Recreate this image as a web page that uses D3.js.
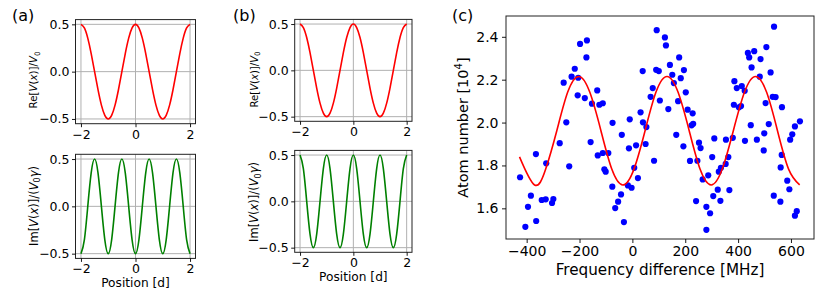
<!DOCTYPE html>
<html>
<head>
<meta charset="utf-8">
<script src="https://cdn.jsdelivr.net/npm/d3@7"></script>
<style>
  body { margin: 0; background: #fff; }
  svg { display: block; }
  text { font-family: "DejaVu Sans", sans-serif; }
</style>
</head>
<body>
<svg id="chart" width="831" height="297"></svg>
<script>
// (a), (b): potential along the lattice, position in units of d
const positions = [-2, -1.875, -1.75, -1.625, -1.5, -1.375, -1.25, -1.125, -1,
  -0.875, -0.75, -0.625, -0.5, -0.375, -0.25, -0.125, 0,
  0.125, 0.25, 0.375, 0.5, 0.625, 0.75, 0.875, 1,
  1.125, 1.25, 1.375, 1.5, 1.625, 1.75, 1.875, 2];
const reValues = [0.5, 0.462, 0.354, 0.191, 0, -0.191, -0.354, -0.462, -0.5,
  -0.462, -0.354, -0.191, 0, 0.191, 0.354, 0.462, 0.5,
  0.462, 0.354, 0.191, 0, -0.191, -0.354, -0.462, -0.5,
  -0.462, -0.354, -0.191, 0, 0.191, 0.354, 0.462, 0.5];
const imValuesA = [-0.5, -0.354, 0, 0.354, 0.5, 0.354, 0, -0.354, -0.5,
  -0.354, 0, 0.354, 0.5, 0.354, 0, -0.354, -0.5,
  -0.354, 0, 0.354, 0.5, 0.354, 0, -0.354, -0.5,
  -0.354, 0, 0.354, 0.5, 0.354, 0, -0.354, -0.5];
const imValuesB = [0.5, 0.354, 0, -0.354, -0.5, -0.354, 0, 0.354, 0.5,
  0.354, 0, -0.354, -0.5, -0.354, 0, 0.354, 0.5,
  0.354, 0, -0.354, -0.5, -0.354, 0, 0.354, 0.5,
  0.354, 0, -0.354, -0.5, -0.354, 0, 0.354, 0.5];
const posTicks = [-2, 0, 2];
const potTicks = [-0.5, 0, 0.5];

// (c): measured atom number vs frequency difference
const freqTicks = [-400, -200, 0, 200, 400, 600];
const atomTicks = [1.6, 1.8, 2.0, 2.2, 2.4];
const measFreq = [92, -198, -172, -174, -218, -230, -205, -260, -133, -207,
  -180, -153, -125, -112, -250, -75, -10, 31, 40, 39, 90, 100, 77, 69, 104, 53,
  123, 127, 177, 142, 195, 151, 183, 157, 202, 173, 136, 209, 228, 230, 224,
  536, 437, 461, 442, 507, 485, 451, 523, 482, 386, 414, 395, 425, 531, 542,
  504, 384, 411, 403, 566, 448, 516, 634, 615,
  -275, -365, -326, -425, -239, -384, -343, -328, -299, -304, -395, -405, -364,
  -158, -40, -131, -112, -91, -13, 14, 50, 82, -106, -101, 7, 21, -76, -17, -3,
  -43, -54, -65, -32,
  166, 193, 252, 258, 310, 354, 380, 426, 471, 499, 497, 218, 246, 302, 363,
  353, 335, 327, 287, 266, 323, 367, 306, 333, 241, 280, 294, 280, 605, 597,
  565, 561, 586, 594, 535, 560, 622, 615];
const measAtoms = [2.431, 2.367, 2.383, 2.304, 2.251, 2.214, 2.209, 2.186, 2.150, 2.127,
  2.114, 2.088, 2.083, 2.090, 2.001, 1.999, 2.015, 2.048, 2.001, 2.240, 2.246, 2.240,
  2.161, 2.120, 2.103, 1.979,
  2.397, 2.360, 2.304, 2.269, 2.245, 2.223, 2.207, 2.184, 2.141, 2.100, 2.063, 2.060,
  2.043, 1.994, 1.987, 2.447, 2.325, 2.333, 2.304, 2.352, 2.296, 2.257, 2.234, 2.214,
  2.193, 2.170, 2.161, 2.148, 2.120, 2.119, 2.091, 2.083, 2.077, 2.071, 2.072, 1.988,
  1.993, 2.006, 1.982,
  1.904, 1.853, 1.810, 1.745, 1.796, 1.659, 1.639, 1.642, 1.643, 1.625, 1.607, 1.514,
  1.541, 1.909, 1.943, 1.847, 1.858, 1.858, 1.880, 1.894, 1.900, 1.822, 1.782, 1.771,
  1.789, 1.741, 1.701, 1.707, 1.696, 1.665, 1.631, 1.601, 1.536,
  1.943, 1.889, 1.906, 1.881, 1.926, 1.920, 1.929, 1.915, 1.920, 1.950, 1.870, 1.821,
  1.822, 1.839, 1.839, 1.807, 1.789, 1.771, 1.754, 1.735, 1.687, 1.685, 1.657, 1.635,
  1.634, 1.607, 1.577, 1.500, 1.945, 1.920, 1.849, 1.791, 1.729, 1.689, 1.659, 1.631,
  1.587, 1.566];
// sinusoidal fit
const fitFreq = [-427, -370, -328, -286, -245, -203, -161, -119, -78, -36, 6, 48, 89,
  131, 173, 215, 256, 298, 340, 382, 424, 466, 508, 549, 591, 633];
const fitAtoms = [1.840, 1.709, 1.783, 1.962, 2.141, 2.215, 2.141, 1.962, 1.783, 1.709,
  1.783, 1.962, 2.141, 2.215, 2.141, 1.962, 1.783, 1.709, 1.783, 1.962, 2.141, 2.215,
  2.141, 1.962, 1.783, 1.709];

const svg = d3.select('#chart');
const fmt1 = d3.format('.1f');
const fmtInt = d3.format('d');

// rich label: pieces of [text, style] where style is '', 'i', 'sub' or 'sup'
function richText(sel, pieces, size) {
  let shift = 0;
  pieces.forEach(([t, s]) => {
    const ts = sel.append('tspan').text(t);
    let target = 0;
    if (s === 'i') ts.attr('font-style', 'italic');
    if (s === 'sub') { target = size * 0.25; ts.attr('font-size', size * 0.7); }
    if (s === 'sup') { target = -size * 0.4; ts.attr('font-size', size * 0.7); }
    if (target !== shift) { ts.attr('dy', target - shift); shift = target; }
  });
}

function styleAxis(g, size) {
  g.select('.domain').remove();
  g.selectAll('.tick line').attr('stroke', '#000').attr('stroke-width', 0.9);
  g.selectAll('.tick text')
    .attr('fill', '#000')
    .attr('font-size', size)
    .attr('font-family', '"DejaVu Sans", sans-serif');
}

function potentialPanel(box, values, color, yLabel, yLabelSize, yLabelLen, yLabelX, yLabelY, xLabelY) {
  const x = d3.scaleLinear().domain([-2.2, 2.2]).range([box.x0, box.x1]);
  const y = d3.scaleLinear().domain([-0.55, 0.55]).range([box.y1, box.y0]);
  const g = svg.append('g');

  // grid
  g.selectAll('line.vgrid').data(posTicks).enter().append('line')
    .attr('x1', d => x(d)).attr('x2', d => x(d))
    .attr('y1', box.y0).attr('y2', box.y1)
    .attr('stroke', '#b0b0b0').attr('stroke-width', 1);
  g.selectAll('line.hgrid').data(potTicks).enter().append('line')
    .attr('x1', box.x0).attr('x2', box.x1)
    .attr('y1', d => y(d)).attr('y2', d => y(d))
    .attr('stroke', '#b0b0b0').attr('stroke-width', 1);

  // curve
  g.append('path')
    .datum(positions.map((p, i) => [p, values[i]]))
    .attr('fill', 'none')
    .attr('stroke', color)
    .attr('stroke-width', 1.6)
    .attr('d', d3.line().x(d => x(d[0])).y(d => y(d[1])).curve(d3.curveNatural));

  g.append('rect')
    .attr('x', box.x0).attr('y', box.y0)
    .attr('width', box.x1 - box.x0).attr('height', box.y1 - box.y0)
    .attr('fill', 'none').attr('stroke', '#222').attr('stroke-width', 1);

  const ax = g.append('g').attr('transform', `translate(0,${box.y1})`)
    .call(d3.axisBottom(x).tickValues(posTicks).tickFormat(fmtInt).tickSize(3.5).tickPadding(2.5));
  styleAxis(ax, 12.5);
  const ay = g.append('g').attr('transform', `translate(${box.x0},0)`)
    .call(d3.axisLeft(y).tickValues(potTicks).tickFormat(fmt1).tickSize(3.5).tickPadding(2.5));
  styleAxis(ay, 12.5);

  const yl = g.append('text')
    .attr('transform', `translate(${yLabelX},${yLabelY}) rotate(-90)`)
    .attr('text-anchor', 'middle')
    .attr('font-size', yLabelSize);
  if (yLabelLen) yl.attr('textLength', yLabelLen).attr('lengthAdjust', 'spacingAndGlyphs');
  richText(yl, yLabel, yLabelSize);

  if (xLabelY) {
    g.append('text')
      .attr('x', (box.x0 + box.x1) / 2).attr('y', xLabelY)
      .attr('text-anchor', 'middle').attr('font-size', 12.2)
      .text('Position [d]');
  }
}

const reLabel = [['Re[', ''], ['V', 'i'], ['(', ''], ['x', 'i'], [')]/', ''], ['V', 'i'], ['0', 'sub']];
const imLabel = [['Im[', ''], ['V', 'i'], ['(', ''], ['x', 'i'], [')]/(', ''], ['V', 'i'], ['0', 'sub'], ['γ', 'i'], [')', '']];

potentialPanel({ x0: 75.5, x1: 195.5, y0: 19.6, y1: 123.7 }, reValues, '#ff0000', reLabel, 10.8, 57, 37, 80, null);
potentialPanel({ x0: 75.5, x1: 195.5, y0: 154.3, y1: 258.4 }, imValuesA, '#008000', imLabel, 11.5, null, 37.5, 206, 287);
potentialPanel({ x0: 294.7, x1: 412, y0: 19.4, y1: 121.3 }, reValues, '#ff0000', reLabel, 10.8, 56, 257.5, 79.5, null);
potentialPanel({ x0: 294.7, x1: 412, y0: 150.4, y1: 252.3 }, imValuesB, '#008000', imLabel, 11.5, null, 258, 202, 281);

// panel (c)
const cBox = { x0: 506, x1: 814, y0: 16, y1: 239 };
const xc = d3.scaleLinear().domain([-478.2, 687.2]).range([cBox.x0, cBox.x1]);
const yc = d3.scaleLinear().domain([1.457, 2.497]).range([cBox.y1, cBox.y0]);
const gc = svg.append('g');

gc.selectAll('circle').data(measFreq.map((f, i) => [f, measAtoms[i]])).enter()
  .append('circle')
  .attr('cx', d => xc(d[0])).attr('cy', d => yc(d[1]))
  .attr('r', 3.1).attr('fill', '#0000ff');

gc.append('path')
  .datum(fitFreq.map((f, i) => [f, fitAtoms[i]]))
  .attr('fill', 'none').attr('stroke', '#ff0000').attr('stroke-width', 1.6)
  .attr('d', d3.line().x(d => xc(d[0])).y(d => yc(d[1])).curve(d3.curveNatural));

gc.append('rect')
  .attr('x', cBox.x0).attr('y', cBox.y0)
  .attr('width', cBox.x1 - cBox.x0).attr('height', cBox.y1 - cBox.y0)
  .attr('fill', 'none').attr('stroke', '#222').attr('stroke-width', 1);

const axc = gc.append('g').attr('transform', `translate(0,${cBox.y1})`)
  .call(d3.axisBottom(xc).tickValues(freqTicks).tickFormat(fmtInt).tickSize(4).tickPadding(3.5));
styleAxis(axc, 14);
const ayc = gc.append('g').attr('transform', `translate(${cBox.x0},0)`)
  .call(d3.axisLeft(yc).tickValues(atomTicks).tickFormat(fmt1).tickSize(4).tickPadding(3.5));
styleAxis(ayc, 14);

gc.append('text')
  .attr('x', (cBox.x0 + cBox.x1) / 2).attr('y', 275)
  .attr('text-anchor', 'middle').attr('font-size', 15.2)
  .text('Frequency difference [MHz]');
const ylc = gc.append('text')
  .attr('transform', `translate(468,${(cBox.y0 + cBox.y1) / 2}) rotate(-90)`)
  .attr('text-anchor', 'middle').attr('font-size', 14.5);
richText(ylc, [['Atom number [10', ''], ['4', 'sup'], [']', '']], 14.5);

// panel letters
[['(a)', 12, 21], ['(b)', 233, 21], ['(c)', 452, 21]].forEach(([t, px, py]) => {
  svg.append('text').attr('x', px).attr('y', py).attr('font-size', 16).text(t);
});
</script>
</body>
</html>
